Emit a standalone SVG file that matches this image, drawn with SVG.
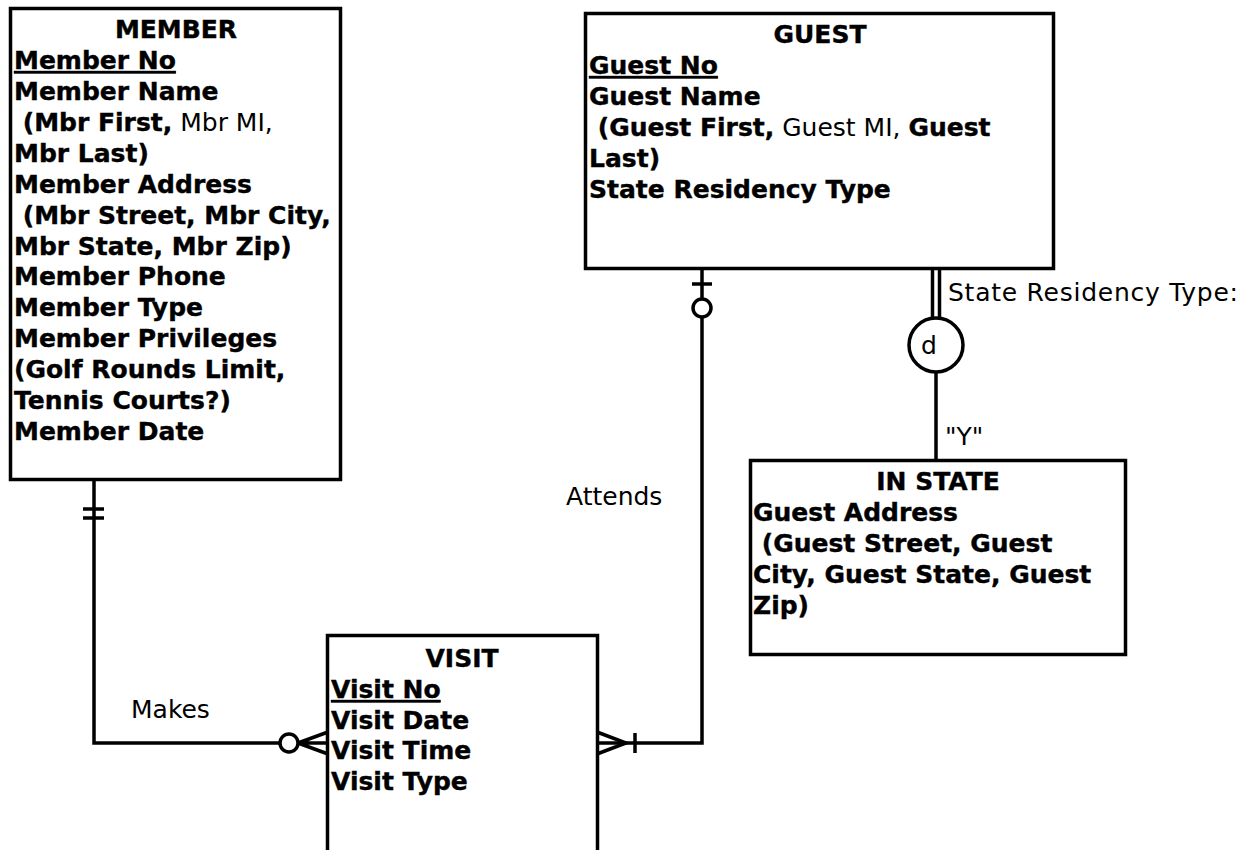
<svg xmlns="http://www.w3.org/2000/svg" width="1242" height="850" viewBox="0 0 1242 850">
<style>
.box{fill:#fff;stroke:#000;stroke-width:3.5}
.ln{fill:none;stroke:#000;stroke-width:3.5}
text{font-family:"DejaVu Sans","Liberation Sans",sans-serif;font-size:25px;fill:#000}
.b{font-weight:bold;stroke:#000;stroke-width:0.4}
.t{font-weight:bold;text-anchor:middle;stroke:#000;stroke-width:0.4}
.r{font-weight:normal;stroke:none}
.u{text-decoration:underline}
</style>
<rect width="1242" height="850" fill="#fff"/>
<g id="connectors">
<path class="ln" d="M94,480 V743 H280"/>
<path class="ln" d="M83,509 H104 M83,518 H104"/>
<circle class="ln" cx="289" cy="743" r="9"/>
<path class="ln" d="M298,743 H328 M298,743 L328,732 M298,743 L328,754"/>
<path class="ln" d="M702,269 V299"/>
<path class="ln" d="M692,284 H712"/>
<circle class="ln" cx="702" cy="308" r="9"/>
<path class="ln" d="M702,317 V743 H597"/>
<path class="ln" d="M597,732 L626,743 L597,754"/>
<path class="ln" d="M635,733 V753"/>
<path class="ln" d="M932.5,269 V319 M939.5,269 V319"/>
<path class="ln" d="M936,372 V460"/>
<text x="566" y="505">Attends</text>
<text x="131" y="718">Makes</text>
<text x="948" y="301" textLength="290" lengthAdjust="spacing">State Residency Type:</text>
<text x="945" y="445">"Y"</text>
</g>
<g id="disjoint">
<circle class="ln" cx="936" cy="345" r="27"/>
<text x="929" y="354" text-anchor="middle">d</text>
</g>
<g id="member">
<rect class="box" x="10.5" y="8.5" width="330" height="471"/>
<text class="t" x="176" y="38">MEMBER</text>
<text class="b u" x="14" y="69">Member No</text>
<text class="b" x="14" y="100">Member Name</text>
<text class="b" x="14" y="131" xml:space="preserve"> (Mbr First,<tspan class="r"> Mbr MI,</tspan></text>
<text class="b" x="14" y="162">Mbr Last)</text>
<text class="b" x="14" y="193">Member Address</text>
<text class="b" x="14" y="224" xml:space="preserve"> (Mbr Street, Mbr City,</text>
<text class="b" x="14" y="255">Mbr State, Mbr Zip)</text>
<text class="b" x="14" y="285">Member Phone</text>
<text class="b" x="14" y="316">Member Type</text>
<text class="b" x="14" y="347">Member Privileges</text>
<text class="b" x="14" y="378">(Golf Rounds Limit,</text>
<text class="b" x="14" y="409">Tennis Courts?)</text>
<text class="b" x="14" y="440">Member Date</text>
</g>
<g id="guest">
<rect class="box" x="585.5" y="13.5" width="468" height="255"/>
<text class="t" x="820" y="43">GUEST</text>
<text class="b u" x="589" y="74">Guest No</text>
<text class="b" x="589" y="105">Guest Name</text>
<text class="b" x="589" y="136" xml:space="preserve"> (Guest First,<tspan class="r"> Guest MI, </tspan>Guest</text>
<text class="b" x="589" y="167">Last)</text>
<text class="b" x="589" y="198">State Residency Type</text>
</g>
<g id="in-state">
<rect class="box" x="750.5" y="460.5" width="375" height="194"/>
<text class="t" x="938" y="490">IN STATE</text>
<text class="b" x="753" y="521">Guest Address</text>
<text class="b" x="753" y="552" xml:space="preserve"> (Guest Street, Guest</text>
<text class="b" x="753" y="583">City, Guest State, Guest</text>
<text class="b" x="753" y="614">Zip)</text>
</g>
<g id="visit">
<rect class="box" x="327.5" y="635.5" width="270" height="230"/>
<text class="t" x="462" y="667">VISIT</text>
<text class="b u" x="331" y="698">Visit No</text>
<text class="b" x="331" y="729">Visit Date</text>
<text class="b" x="331" y="759">Visit Time</text>
<text class="b" x="331" y="790">Visit Type</text>
</g>
</svg>
